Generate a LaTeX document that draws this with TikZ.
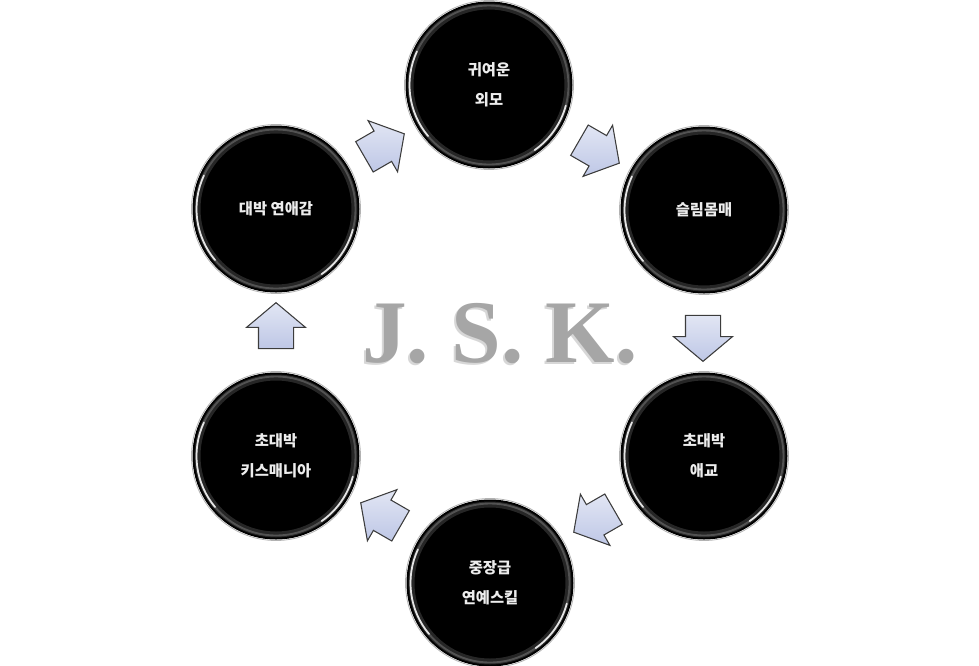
\documentclass[tikz,border=0pt]{standalone}
\usepackage{fontspec}
\setmainfont{Liberation Serif}
\newfontfamily\kr{Noto Sans CJK KR}
\usetikzlibrary{shapes.arrows}

\definecolor{arrowblue}{RGB}{190,199,230}
\definecolor{arrowline}{RGB}{60,60,60}
\definecolor{jskgray}{RGB}{166,166,166}
\definecolor{jskshade}{RGB}{215,215,215}

\tikzset{every picture/.style={line width=0.75pt}}
\tikzset{
  ball/.style={circle, minimum size=124.5pt, inner sep=0pt, fill=black, draw=black, line width=0.75pt,
    text=white!93!black, align=center, font=\kr\bfseries\fontsize{11.5}{22.5}\selectfont},
  halo/.style={black!30, line width=0.6pt},
  ringsoft/.style={black!85, line width=4.5},
  ringmid/.style={black!68, line width=1.4},
  glint/.style={white, line width=1.3, opacity=0.85, line cap=round},
  blockarrow/.style={single arrow, single arrow head extend=9pt, single arrow tip angle=100,
    inner xsep=0pt, inner ysep=12.75pt, minimum height=34.5pt, draw=arrowline, line width=0.8pt,
    top color=white!55!arrowblue, bottom color=arrowblue, shading angle=0}
}

\begin{document}
\begin{tikzpicture}[x=0.75pt,y=0.75pt,yscale=-1,xscale=1]
\useasboundingbox (0,0) rectangle (979,665);

%Text: title
\node [anchor=base, text=jskshade, font=\bfseries\fontsize{67}{67}\selectfont] (jsks) at (498,364) {J. S. K.};
\node [anchor=base, text=jskgray, font=\bfseries\fontsize{67}{67}\selectfont] (jsk) at (500,362) {J. S. K.};

%Shape: Circles
\node [ball] (c1) at (489,85) {};
\node [ball] (c2) at (704,210) {};
\node [ball] (c3) at (704,456) {};
\node [ball] (c4) at (490,583) {};
\node [ball] (c5) at (276,456) {};
\node [ball] (c6) at (276,209) {};

%Rings and highlights
\foreach \n in {c1,c2,c3,c4,c5,c6}{
  \draw [halo] (\n.center) circle[radius=84.5];
  \draw [ringsoft] (\n.center) circle[radius=78.5];
  \draw [ringmid] (\n.center) circle[radius=79.5];
  \draw [glint] ([shift={(140:79.5)}]\n.center) arc[start angle=140, end angle=205, radius=79.5];
  \draw [glint] ([shift={(15:79.5)}]\n.center) arc[start angle=15, end angle=55, radius=79.5];
}

%Text: labels
\node [ball, fill=none, draw=none] (t1) at (c1) {귀여운\\외모};
\node [ball, fill=none, draw=none] (t2) at (c2) {슬림몸매};
\node [ball, fill=none, draw=none] (t3) at (c3) {초대박\\애교};
\node [ball, fill=none, draw=none] (t4) at (c4) {중장급\\연예스킬};
\node [ball, fill=none, draw=none] (t5) at (c5) {초대박\\키스매니아};
\node [ball, fill=none, draw=none] (t6) at (c6) {대박 연애감};

%Shape: Block Arrows
\node [blockarrow, rotate=-30] (a1) at (593,148) {};
\node [blockarrow, rotate=-90] (a2) at (703,331) {};
\node [blockarrow, rotate=-150] (a3) at (600,517) {};
\node [blockarrow, rotate=150] (a4) at (387,518) {};
\node [blockarrow, rotate=90] (a5) at (276,333) {};
\node [blockarrow, rotate=30] (a6) at (378,149) {};

\end{tikzpicture}
\end{document}
